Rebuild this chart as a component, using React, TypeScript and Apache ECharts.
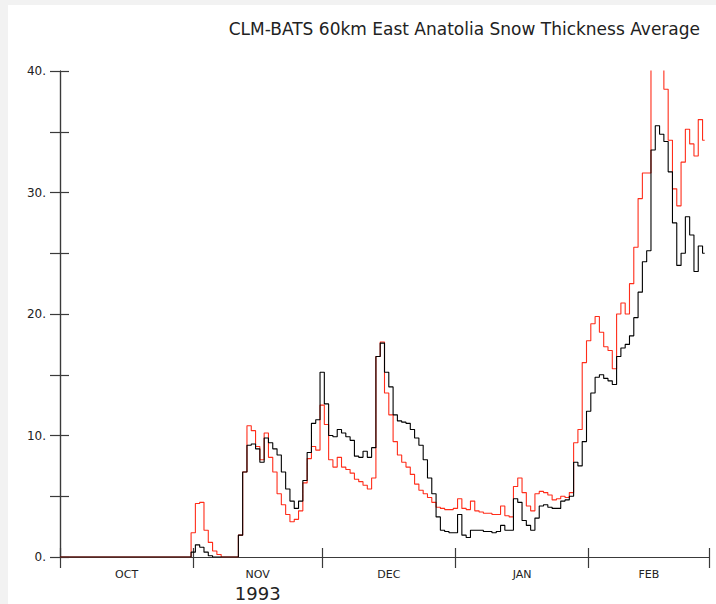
import React, { useEffect, useRef } from 'react';
import * as echarts from 'echarts';

const TITLE = 'CLM-BATS 60km East Anatolia Snow Thickness Average';
const YEAR_LABEL = '1993';
const monthNames = ['OCT', 'NOV', 'DEC', 'JAN', 'FEB'];
// day offsets (from 1 Oct 1993) of each month start, last = 1 Mar
const monthStartDays = [0, 31, 61, 92, 123, 151];
const yLabelValues = [0, 10, 20, 30, 40];
const yTickLabels = ['0.', '10.', '20.', '30.', '40.'];

// daily snow thickness, day 0 = 1 Oct
const redValues = [
  0, 0, 0, 0, 0, 0, 0, 0, 0, 0,
  0, 0, 0, 0, 0, 0, 0, 0, 0, 0,
  0, 0, 0, 0, 0, 0, 0, 0, 0, 0,
  0, 2.0, 4.4, 4.5, 2.2, 1.2, 0.5, 0.2, 0, 0,
  0, 0, 1.8, 7.0, 10.8, 10.4, 9.1, 8.0, 10.2, 8.2,
  7.0, 5.2, 4.3, 3.5, 2.9, 3.1, 3.8, 6.1, 8.1, 9.1,
  8.8, 12.5, 10.9, 8.0, 7.4, 8.2, 7.4, 7.2, 6.9, 6.4,
  6.2, 5.9, 5.6, 6.5, 16.5, 17.7, 13.5, 11.7, 9.5, 8.4,
  7.8, 7.4, 6.8, 6.0, 5.5, 5.2, 4.9, 4.5, 4.1, 4.0,
  3.9, 3.9, 4.0, 4.8, 4.0, 3.9, 4.6, 3.8, 3.7, 3.6,
  3.6, 3.5, 3.5, 4.2, 3.4, 3.3, 5.8, 6.5, 5.3, 4.2,
  3.8, 5.2, 5.4, 5.3, 5.1, 4.7, 4.8, 5.0, 4.9, 5.3,
  9.4, 10.5, 16.0, 17.8, 19.2, 19.8, 18.5, 17.3, 17.0, 15.5,
  20.0, 20.9, 20.0, 22.5, 25.5, 29.5, 31.6, 31.6, 41.0, 43.0,
  41.0, 38.5, 34.3, 30.3, 28.9, 32.5, 35.2, 34.0, 33.0, 36.0,
  34.3
];
const blackValues = [
  0, 0, 0, 0, 0, 0, 0, 0, 0, 0,
  0, 0, 0, 0, 0, 0, 0, 0, 0, 0,
  0, 0, 0, 0, 0, 0, 0, 0, 0, 0,
  0, 0.4, 1.0, 0.8, 0.4, 0.1, 0, 0, 0, 0,
  0, 0, 1.8, 7.0, 9.2, 9.3, 8.9, 7.8, 9.8, 9.4,
  8.9, 8.4, 7.0, 5.6, 4.6, 4.0, 4.6, 6.3, 8.6, 11.0,
  11.3, 15.2, 12.6, 10.0, 9.9, 10.5, 10.2, 9.9, 9.6, 8.3,
  8.2, 8.7, 8.2, 9.0, 16.5, 17.6, 15.2, 14.0, 11.7, 11.2,
  11.1, 11.0, 10.5, 9.8, 9.2, 8.0, 6.5, 5.2, 3.3, 2.2,
  2.1, 2.0, 2.0, 3.5, 1.8, 1.6, 2.2, 2.2, 2.2, 2.1,
  2.1, 2.0, 2.1, 2.6, 2.2, 2.2, 4.8, 4.5, 3.0, 2.6,
  2.2, 3.2, 4.2, 4.3, 4.1, 4.0, 4.0, 4.6, 4.7, 5.0,
  7.8, 7.5, 9.5, 12.0, 13.5, 14.8, 15.0, 14.7, 14.5, 14.2,
  16.5, 17.2, 17.5, 18.2, 19.7, 21.8, 24.3, 25.2, 33.5, 35.5,
  34.8, 34.2, 31.7, 27.5, 24.0, 25.0, 28.0, 26.5, 23.5, 25.6,
  25.0
];

const FONT = 'DejaVu Sans';

export default function App() {
  const ref = useRef<HTMLDivElement>(null);
  useEffect(() => {
    const chart = echarts.init(ref.current!, null, { renderer: 'svg' });
    const monthMids = monthNames.map((_, i) => (monthStartDays[i] + monthStartDays[i + 1]) / 2);
    const axisLineStyle = { color: '#3a3a3a', width: 1.2 };
    chart.setOption({
      animation: false,
      backgroundColor: '#ffffff',
      title: {
        text: TITLE,
        right: 11,
        top: 10,
        textStyle: { fontFamily: FONT, fontSize: 17, fontWeight: 'normal', color: '#222' },
      },
      grid: { left: 52, top: 66, width: 649, height: 486, containLabel: false },
      xAxis: [
        {
          type: 'value',
          position: 'bottom',
          min: monthStartDays[0],
          max: monthStartDays[monthStartDays.length - 1],
          splitLine: { show: false },
          axisLine: { show: true, lineStyle: axisLineStyle },
          axisTick: { show: true, inside: false, length: 11, customValues: monthStartDays, lineStyle: axisLineStyle },
          axisLabel: {
            show: true,
            customValues: monthMids,
            formatter: (v: number) => monthNames[monthMids.indexOf(v)] ?? '',
            margin: 12,
            fontFamily: FONT,
            fontSize: 11,
            color: '#222',
          },
        },
        {
          type: 'value',
          position: 'top',
          min: monthStartDays[0],
          max: monthStartDays[monthStartDays.length - 1],
          splitLine: { show: false },
          axisLine: { show: true, lineStyle: axisLineStyle },
          axisTick: { show: true, inside: false, length: 9, customValues: monthStartDays, lineStyle: axisLineStyle },
          axisLabel: { show: false },
        },
        {
          type: 'value',
          position: 'bottom',
          min: monthStartDays[0],
          max: monthStartDays[monthStartDays.length - 1],
          splitLine: { show: false },
          axisLine: { show: false },
          axisTick: { show: false },
          axisLabel: {
            show: true,
            customValues: [monthMids[1]],
            formatter: () => YEAR_LABEL,
            margin: 27,
            fontFamily: FONT,
            fontSize: 18,
            color: '#222',
          },
        },
      ],
      yAxis: [
        {
          type: 'value',
          position: 'left',
          min: 0,
          max: 40,
          interval: 5,
          splitLine: { show: false },
          axisLine: { show: true, lineStyle: axisLineStyle },
          axisTick: { show: true, inside: false, length: 10, lineStyle: axisLineStyle },
          axisLabel: {
            show: true,
            customValues: yLabelValues,
            formatter: (v: number) => yTickLabels[yLabelValues.indexOf(v)] ?? '',
            margin: 14,
            fontFamily: FONT,
            fontSize: 12,
            color: '#222',
          },
        },
        {
          type: 'value',
          position: 'right',
          min: 0,
          max: 40,
          interval: 5,
          splitLine: { show: false },
          axisLine: { show: true, lineStyle: axisLineStyle },
          axisTick: { show: true, inside: false, length: 9, lineStyle: axisLineStyle },
          axisLabel: { show: false },
        },
      ],
      series: [
        {
          name: 'red',
          type: 'line',
          xAxisIndex: 0,
          yAxisIndex: 0,
          showSymbol: false,
          clip: true,
          step: 'middle',
          lineStyle: { color: '#ff2d1a', width: 1.1 },
          data: redValues.map((v, d) => [d, v]),
        },
        {
          name: 'black',
          type: 'line',
          xAxisIndex: 0,
          yAxisIndex: 0,
          showSymbol: false,
          clip: true,
          step: 'middle',
          lineStyle: { color: '#000000', width: 1.1 },
          data: blackValues.map((v, d) => [d, v]),
        },
      ],
    });
    return () => chart.dispose();
  }, []);
  return (
    <div style={{ position: 'fixed', left: 0, top: 0, width: 716, height: 604, background: '#f2f2f2', overflow: 'hidden' }}>
      <div ref={ref} style={{ position: 'absolute', left: 8, top: 5, width: 708, height: 599 }} />
    </div>
  );
}
